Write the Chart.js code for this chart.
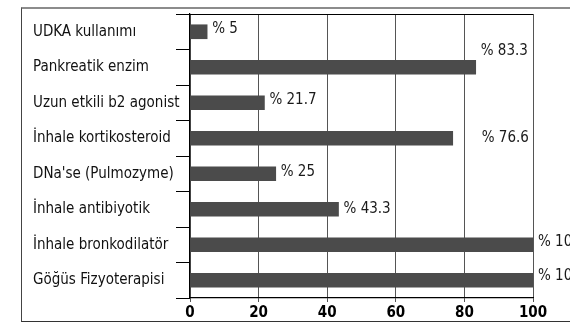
<!DOCTYPE html>
<html>
<head>
<meta charset="utf-8">
<script src="https://cdn.jsdelivr.net/npm/chart.js@4/dist/chart.umd.min.js"></script>
<style>
  html, body { margin: 0; padding: 0; background: #fff; overflow: hidden; }
  #wrap { position: relative; width: 570px; height: 322px; }
  #frame {
    position: absolute; left: 21px; top: 7px; width: 600px; height: 312px;
    border-top: 2px solid #8c8c8c; border-left: 1px solid #444; border-bottom: 1px solid #333;
  }
  #chart { position: absolute; left: 0; top: 0; }
</style>
</head>
<body>
<div id="wrap">
  <div id="frame"></div>
  <canvas id="chart" width="570" height="322"></canvas>
</div>
<script>
// Treatments and the share of patients receiving each (%)
const categories = [
  'UDKA kullanımı',
  'Pankreatik enzim',
  'Uzun etkili b2 agonist',
  'İnhale kortikosteroid',
  "DNa'se (Pulmozyme)",
  'İnhale antibiyotik',
  'İnhale bronkodilatör',
  'Göğüs Fizyoterapisi'
];
const percentages = [5, 83.3, 21.7, 76.6, 25, 43.3, 100, 100];
const xTicks = [0, 20, 40, 60, 80, 100];

const FONT = "'Liberation Sans Narrow', 'Arial Narrow', 'DejaVu Sans Condensed', sans-serif";

// Per-label nudges (pixels) for the value captions
const captionShift = {
  dx: [0, 0, 0, 24, 0, 0, 0, 0],
  dy: [-3, -16, -3, 0, -2, 0, -3, -4]
};

const valueCaptions = {
  id: 'valueCaptions',
  afterDatasetsDraw(chart) {
    const ctx = chart.ctx;
    const meta = chart.getDatasetMeta(0);
    ctx.save();
    ctx.font = '15px ' + FONT;
    ctx.fillStyle = '#1a1a1a';
    ctx.textAlign = 'left';
    ctx.textBaseline = 'middle';
    meta.data.forEach((bar, i) => {
      const v = chart.data.datasets[0].data[i];
      ctx.fillText('% ' + v, bar.x + 5 + captionShift.dx[i], bar.y + captionShift.dy[i]);
    });
    ctx.restore();
  }
};

// Line closing the top of the plot area
const topRule = {
  id: 'topRule',
  afterDraw(chart) {
    const { ctx, chartArea } = chart;
    const y = chart.scales.y;
    ctx.save();
    ctx.strokeStyle = '#000';
    ctx.lineWidth = 1.2;
    ctx.beginPath();
    ctx.moveTo(y.right - 14, chartArea.top + 0.5);
    ctx.lineTo(chartArea.right, chartArea.top + 0.5);
    ctx.stroke();
    ctx.restore();
  }
};

new Chart(document.getElementById('chart'), {
  type: 'bar',
  data: {
    labels: categories,
    datasets: [{
      data: percentages,
      backgroundColor: '#4b4b4b',
      borderWidth: 0,
      barThickness: 14
    }]
  },
  options: {
    indexAxis: 'y',
    responsive: false,
    animation: false,
    layout: { padding: { left: 33, top: 14, right: 37, bottom: 0 } },
    plugins: { legend: { display: false }, tooltip: { enabled: false } },
    scales: {
      x: {
        type: 'linear',
        min: 0,
        max: 100,
        afterBuildTicks(scale) { scale.ticks = xTicks.map(v => ({ value: v })); },
        afterFit(scale) { scale.height = 24; },
        grid: { color: '#555', lineWidth: 1, tickLength: 4, drawTicks: true },
        border: { color: '#000', width: 1.2 },
        ticks: {
          color: '#000',
          padding: 2,
          maxRotation: 0,
          font: { family: FONT, size: 15, weight: 'bold' }
        }
      },
      y: {
        type: 'category',
        afterFit(scale) { scale.width = 157; },
        grid: { offset: true, drawOnChartArea: false, tickLength: 14, color: '#000', lineWidth: 1 },
        border: { color: '#000', width: 1.2 },
        ticks: {
          color: '#111',
          crossAlign: 'far',
          font: { family: FONT, size: 15 }
        }
      }
    }
  },
  plugins: [valueCaptions, topRule]
});
</script>
</body>
</html>
